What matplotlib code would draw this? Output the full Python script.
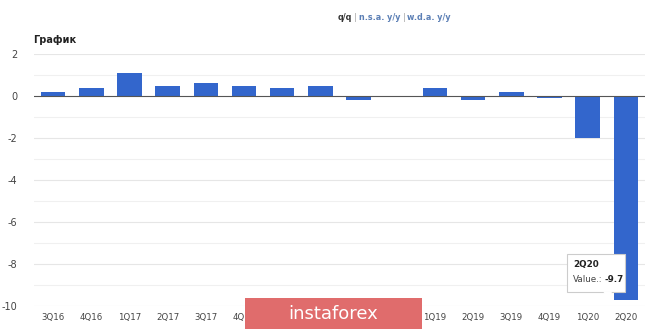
import matplotlib
matplotlib.use("Agg")
import matplotlib.pyplot as plt
from matplotlib.patches import Rectangle, Polygon

categories = ["3Q16", "4Q16", "1Q17", "2Q17", "3Q17", "4Q17", "1Q18", "2Q18",
              "3Q18", "4Q18", "1Q19", "2Q19", "3Q19", "4Q19", "1Q20", "2Q20"]
values = [0.2, 0.4, 1.1, 0.5, 0.6, 0.5, 0.4, 0.5,
          -0.2, 0.0, 0.4, -0.2, 0.2, -0.1, -2.0, -9.7]
y_ticks = [2, 0, -2, -4, -6, -8, -10]

W, H = 665, 329
fig = plt.figure(figsize=(W / 100, H / 100), dpi=100)
fig.patch.set_facecolor("white")

def fx(px):
    return px / W

def fy(py):
    return 1 - py / H

ax = fig.add_axes([fx(34), fy(306), fx(645) - fx(34), fy(54) - fy(306)])
ax.set_xlim(-0.5, 15.5)
ax.set_ylim(-10, 2)

for v in range(-10, 3):
    if v == 0:
        continue
    ax.axhline(v, color="#e6e6e6" if v % 2 == 0 else "#f0f0f0", lw=0.8, zorder=0)

x = list(range(len(categories)))
ax.bar(x, values, width=0.64, color="#3366cc", zorder=2)
ax.axhline(0, color="#555555", lw=0.8, zorder=3)

for s in ax.spines.values():
    s.set_visible(False)
ax.set_xticks(x)
ax.set_xticklabels(categories, fontsize=6.2, color="#444444")
ax.set_yticks(y_ticks)
ax.set_yticklabels([str(t) for t in y_ticks], fontsize=7, color="#444444")
ax.tick_params(length=0, pad=5)
ax.tick_params(axis="y", pad=12)

fig.text(fx(33), fy(40), "График", fontsize=7, fontweight="bold", color="#222222",
         va="center", ha="left")

renderer = fig.canvas.get_renderer()

def seq(x0, y0, parts, zorder=5):
    cur = x0
    for txt, kw, gap in parts:
        t = fig.text(fx(cur), fy(y0), txt, va="center", ha="left", zorder=zorder, **kw)
        bb = t.get_window_extent(renderer=renderer)
        cur += bb.width + gap

# top switcher
sw = dict(fontsize=5.8, fontweight="bold")
seq(338, 18, [
    ("q/q", dict(color="#333333", **sw), 2),
    ("|", dict(fontsize=5.8, color="#999999"), 2),
    ("n.s.a. y/y", dict(color="#5b7fb5", **sw), 2),
    ("|", dict(fontsize=5.8, color="#999999"), 2),
    ("w.d.a. y/y", dict(color="#5b7fb5", **sw), 0),
])

# tooltip
tip = Rectangle((fx(567), fy(292)), fx(625) - fx(567), fy(254) - fy(292),
                transform=fig.transFigure, facecolor="white", edgecolor="#cccccc",
                lw=0.8, zorder=10)
fig.add_artist(tip)
ptr = Polygon([(fx(603), fy(291.5)), (fx(612), fy(291.5)), (fx(610), fy(300))],
              closed=True, transform=fig.transFigure, facecolor="white",
              edgecolor="none", zorder=11)
fig.add_artist(ptr)
fig.text(fx(573), fy(265), "2Q20", fontsize=6.3, fontweight="bold", color="#222222",
         va="center", ha="left", zorder=12)
seq(573, 280, [
    ("Value.:", dict(fontsize=6.3, color="#444444"), 2),
    ("-9.7", dict(fontsize=6.3, fontweight="bold", color="#222222"), 0),
], zorder=12)

# watermark
wm = Rectangle((fx(245), fy(329)), fx(422) - fx(245), fy(298) - fy(329),
               transform=fig.transFigure, facecolor="#e06c6c", edgecolor="none", zorder=20)
fig.add_artist(wm)
fig.text(fx(333), fy(314), "instaforex", fontsize=13, color="white", va="center",
         ha="center", zorder=21)

fig.savefig("out.png", dpi=100, facecolor="white")
